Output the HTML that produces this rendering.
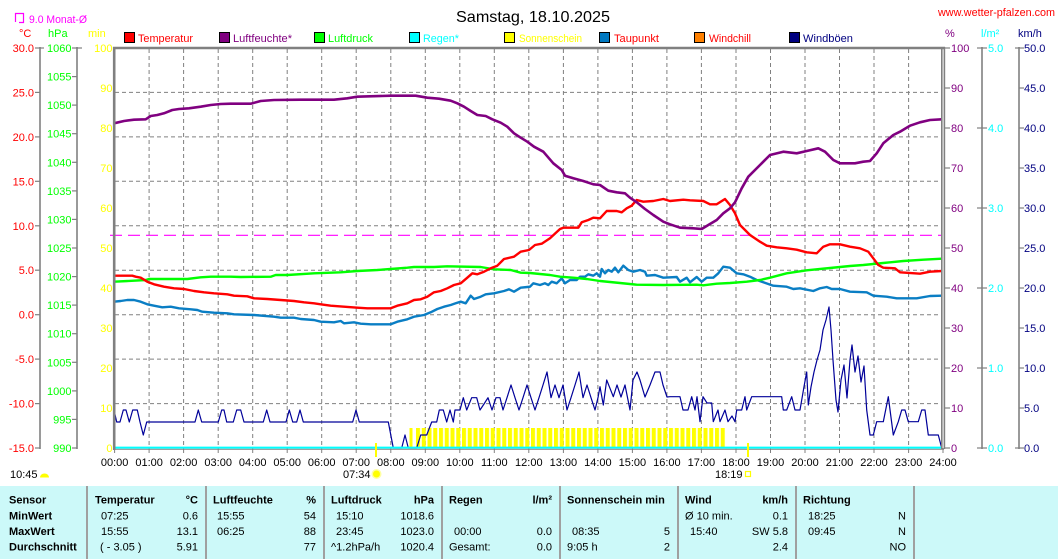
<!DOCTYPE html>
<html>
<head>
<meta charset="utf-8">
<style>
html,body{margin:0;padding:0;background:#fff;}
svg{display:block;}
text{font-family:"Liberation Sans",Arial,sans-serif;font-size:11px;}
.b{font-weight:bold;}
</style>
</head>
<body>
<svg width="1058" height="559" viewBox="0 0 1058 559" xmlns="http://www.w3.org/2000/svg">
<defs>
<pattern id="sun" patternUnits="userSpaceOnUse" x="416" y="0" width="5.75" height="600">
<rect x="0" y="0" width="4" height="600" fill="#ffff00"/>
</pattern>
</defs>

<!-- Title -->
<text x="456" y="22" style="font-size:16px" fill="#000" textLength="154" lengthAdjust="spacingAndGlyphs">Samstag, 18.10.2025</text>
<text x="938" y="16" fill="#ff0000" textLength="117" lengthAdjust="spacingAndGlyphs">www.wetter-pfalzen.com</text>

<!-- Monat icon + text -->
<path d="M15.5,22 V13.5 H23.5 V22.5 H19" fill="none" stroke="#ff00ff" stroke-width="1.2"/>
<text x="29" y="23" fill="#ff00ff" textLength="58" lengthAdjust="spacingAndGlyphs">9.0 Monat-Ø</text>

<!-- units -->
<text x="19" y="37" fill="#ff0000">°C</text>
<text x="48" y="37" fill="#00ff00">hPa</text>
<text x="88" y="37" fill="#ffff00">min</text>
<text x="945" y="37" fill="#800080">%</text>
<text x="981" y="37" fill="#00ffff">l/m²</text>
<text x="1018" y="37" fill="#000080">km/h</text>

<!-- legend -->
<g stroke="#000" stroke-width="1">
<rect x="124.5" y="32.5" width="10" height="10" fill="#ff0000"/>
<rect x="219.5" y="32.5" width="10" height="10" fill="#800080"/>
<rect x="314.5" y="32.5" width="10" height="10" fill="#00ff00"/>
<rect x="409.5" y="32.5" width="10" height="10" fill="#00ffff"/>
<rect x="504.5" y="32.5" width="10" height="10" fill="#ffff00"/>
<rect x="599.5" y="32.5" width="10" height="10" fill="#0078c0"/>
<rect x="694.5" y="32.5" width="10" height="10" fill="#ff8000"/>
<rect x="789.5" y="32.5" width="10" height="10" fill="#000080"/>
</g>
<text x="138" y="42" fill="#ff0000" textLength="55" lengthAdjust="spacingAndGlyphs">Temperatur</text>
<text x="233" y="42" fill="#800080" textLength="59" lengthAdjust="spacingAndGlyphs">Luftfeuchte*</text>
<text x="328" y="42" fill="#00ff00" textLength="45" lengthAdjust="spacingAndGlyphs">Luftdruck</text>
<text x="423" y="42" fill="#00ffff" textLength="36" lengthAdjust="spacingAndGlyphs">Regen*</text>
<text x="519" y="42" fill="#ffff00" textLength="63" lengthAdjust="spacingAndGlyphs">Sonnenschein</text>
<text x="614" y="42" fill="#ff0000" textLength="45" lengthAdjust="spacingAndGlyphs">Taupunkt</text>
<text x="709" y="42" fill="#ff0000" textLength="42" lengthAdjust="spacingAndGlyphs">Windchill</text>
<text x="803" y="42" fill="#000080" textLength="50" lengthAdjust="spacingAndGlyphs">Windböen</text>

<!-- left axis lines -->
<g stroke="#808080" stroke-width="1.6">
<line x1="40" y1="47" x2="40" y2="449"/>
<line x1="77" y1="47" x2="77" y2="449"/>
<line x1="982" y1="47" x2="982" y2="449"/>
<line x1="1019" y1="47" x2="1019" y2="449"/>
</g>
<g stroke="#808080" stroke-width="1.2">
<!-- temp ticks -->
<line x1="35" y1="48" x2="44" y2="48"/>
<line x1="35" y1="92.4" x2="40" y2="92.4"/>
<line x1="35" y1="136.9" x2="40" y2="136.9"/>
<line x1="35" y1="181.3" x2="40" y2="181.3"/>
<line x1="35" y1="225.8" x2="40" y2="225.8"/>
<line x1="35" y1="270.2" x2="40" y2="270.2"/>
<line x1="35" y1="314.7" x2="40" y2="314.7"/>
<line x1="35" y1="359.1" x2="40" y2="359.1"/>
<line x1="35" y1="403.6" x2="40" y2="403.6"/>
<line x1="35" y1="448" x2="40" y2="448"/>
<!-- hPa ticks -->
<line x1="72" y1="48" x2="82" y2="48"/>
<line x1="72" y1="76.6" x2="77" y2="76.6"/>
<line x1="72" y1="105.1" x2="77" y2="105.1"/>
<line x1="72" y1="133.7" x2="77" y2="133.7"/>
<line x1="72" y1="162.3" x2="77" y2="162.3"/>
<line x1="72" y1="190.9" x2="77" y2="190.9"/>
<line x1="72" y1="219.4" x2="77" y2="219.4"/>
<line x1="72" y1="248" x2="77" y2="248"/>
<line x1="72" y1="276.6" x2="77" y2="276.6"/>
<line x1="72" y1="305.1" x2="77" y2="305.1"/>
<line x1="72" y1="333.7" x2="77" y2="333.7"/>
<line x1="72" y1="362.3" x2="77" y2="362.3"/>
<line x1="72" y1="390.9" x2="77" y2="390.9"/>
<line x1="72" y1="419.4" x2="77" y2="419.4"/>
<line x1="72" y1="448" x2="77" y2="448"/>
<!-- % ticks -->
<line x1="945" y1="48" x2="950" y2="48"/>
<line x1="945" y1="88" x2="950" y2="88"/>
<line x1="945" y1="128" x2="950" y2="128"/>
<line x1="945" y1="168" x2="950" y2="168"/>
<line x1="945" y1="208" x2="950" y2="208"/>
<line x1="945" y1="248" x2="950" y2="248"/>
<line x1="945" y1="288" x2="950" y2="288"/>
<line x1="945" y1="328" x2="950" y2="328"/>
<line x1="945" y1="368" x2="950" y2="368"/>
<line x1="945" y1="408" x2="950" y2="408"/>
<line x1="945" y1="448" x2="950" y2="448"/>
<!-- l/m2 ticks -->
<line x1="977" y1="48" x2="987" y2="48"/>
<line x1="977" y1="128" x2="987" y2="128"/>
<line x1="977" y1="208" x2="987" y2="208"/>
<line x1="977" y1="288" x2="987" y2="288"/>
<line x1="977" y1="368" x2="987" y2="368"/>
<line x1="977" y1="448" x2="987" y2="448"/>
<!-- km/h ticks -->
<line x1="1015" y1="48" x2="1024" y2="48"/>
<line x1="1019" y1="88" x2="1024" y2="88"/>
<line x1="1019" y1="128" x2="1024" y2="128"/>
<line x1="1019" y1="168" x2="1024" y2="168"/>
<line x1="1019" y1="208" x2="1024" y2="208"/>
<line x1="1019" y1="248" x2="1024" y2="248"/>
<line x1="1019" y1="288" x2="1024" y2="288"/>
<line x1="1019" y1="328" x2="1024" y2="328"/>
<line x1="1019" y1="368" x2="1024" y2="368"/>
<line x1="1019" y1="408" x2="1024" y2="408"/>
<line x1="1015" y1="448" x2="1024" y2="448"/>
</g>

<!-- temp labels -->
<g fill="#ff0000" text-anchor="end">
<text x="34" y="52">30.0</text>
<text x="34" y="96.4">25.0</text>
<text x="34" y="140.9">20.0</text>
<text x="34" y="185.3">15.0</text>
<text x="34" y="229.8">10.0</text>
<text x="34" y="274.2">5.0</text>
<text x="34" y="318.7">0.0</text>
<text x="34" y="363.1">-5.0</text>
<text x="34" y="407.6">-10.0</text>
<text x="34" y="452">-15.0</text>
</g>
<g fill="#00ff00" text-anchor="end">
<text x="71.5" y="52">1060</text>
<text x="71.5" y="80.6">1055</text>
<text x="71.5" y="109.1">1050</text>
<text x="71.5" y="137.7">1045</text>
<text x="71.5" y="166.3">1040</text>
<text x="71.5" y="194.9">1035</text>
<text x="71.5" y="223.4">1030</text>
<text x="71.5" y="252">1025</text>
<text x="71.5" y="280.6">1020</text>
<text x="71.5" y="309.1">1015</text>
<text x="71.5" y="337.7">1010</text>
<text x="71.5" y="366.3">1005</text>
<text x="71.5" y="394.9">1000</text>
<text x="71.5" y="423.4">995</text>
<text x="71.5" y="452">990</text>
</g>
<g fill="#ffff00" text-anchor="end">
<text x="112.5" y="52">100</text>
<text x="112.5" y="92">90</text>
<text x="112.5" y="132">80</text>
<text x="112.5" y="172">70</text>
<text x="112.5" y="212">60</text>
<text x="112.5" y="252">50</text>
<text x="112.5" y="292">40</text>
<text x="112.5" y="332">30</text>
<text x="112.5" y="372">20</text>
<text x="112.5" y="412">10</text>
<text x="112.5" y="452">0</text>
</g>
<g fill="#800080">
<text x="951" y="52">100</text>
<text x="951" y="92">90</text>
<text x="951" y="132">80</text>
<text x="951" y="172">70</text>
<text x="951" y="212">60</text>
<text x="951" y="252">50</text>
<text x="951" y="292">40</text>
<text x="951" y="332">30</text>
<text x="951" y="372">20</text>
<text x="951" y="412">10</text>
<text x="951" y="452">0</text>
</g>
<g fill="#00ffff">
<text x="988" y="52">5.0</text>
<text x="988" y="132">4.0</text>
<text x="988" y="212">3.0</text>
<text x="988" y="292">2.0</text>
<text x="988" y="372">1.0</text>
<text x="988" y="452">0.0</text>
</g>
<g fill="#000080">
<text x="1024" y="52">50.0</text>
<text x="1024" y="92">45.0</text>
<text x="1024" y="132">40.0</text>
<text x="1024" y="172">35.0</text>
<text x="1024" y="212">30.0</text>
<text x="1024" y="252">25.0</text>
<text x="1024" y="292">20.0</text>
<text x="1024" y="332">15.0</text>
<text x="1024" y="372">10.0</text>
<text x="1024" y="412">5.0</text>
<text x="1024" y="452">0.0</text>
</g>

<!-- grid -->
<g stroke="#808080" stroke-width="1" stroke-dasharray="4,3">
<line x1="115" y1="92.4" x2="941" y2="92.4"/>
<line x1="115" y1="136.9" x2="941" y2="136.9"/>
<line x1="115" y1="181.3" x2="941" y2="181.3"/>
<line x1="115" y1="225.8" x2="941" y2="225.8"/>
<line x1="115" y1="270.2" x2="941" y2="270.2"/>
<line x1="115" y1="314.7" x2="941" y2="314.7"/>
<line x1="115" y1="359.1" x2="941" y2="359.1"/>
<line x1="115" y1="403.6" x2="941" y2="403.6"/>
<line x1="149.1" y1="49" x2="149.1" y2="448"/>
<line x1="183.6" y1="49" x2="183.6" y2="448"/>
<line x1="218.2" y1="49" x2="218.2" y2="448"/>
<line x1="252.7" y1="49" x2="252.7" y2="448"/>
<line x1="287.2" y1="49" x2="287.2" y2="448"/>
<line x1="321.7" y1="49" x2="321.7" y2="448"/>
<line x1="356.2" y1="49" x2="356.2" y2="448"/>
<line x1="390.8" y1="49" x2="390.8" y2="448"/>
<line x1="425.3" y1="49" x2="425.3" y2="448"/>
<line x1="459.8" y1="49" x2="459.8" y2="448"/>
<line x1="494.3" y1="49" x2="494.3" y2="448"/>
<line x1="528.8" y1="49" x2="528.8" y2="448"/>
<line x1="563.4" y1="49" x2="563.4" y2="448"/>
<line x1="597.9" y1="49" x2="597.9" y2="448"/>
<line x1="632.4" y1="49" x2="632.4" y2="448"/>
<line x1="666.9" y1="49" x2="666.9" y2="448"/>
<line x1="701.4" y1="49" x2="701.4" y2="448"/>
<line x1="736" y1="49" x2="736" y2="448"/>
<line x1="770.5" y1="49" x2="770.5" y2="448"/>
<line x1="805" y1="49" x2="805" y2="448"/>
<line x1="839.5" y1="49" x2="839.5" y2="448"/>
<line x1="874" y1="49" x2="874" y2="448"/>
<line x1="908.6" y1="49" x2="908.6" y2="448"/>
</g>

<!-- monthly average dashed line -->
<line x1="110" y1="235.3" x2="941" y2="235.3" stroke="#ff00ff" stroke-width="1.2" stroke-dasharray="12,6"/>

<!-- hour ticks -->
<g stroke="#808080" stroke-width="1">
<line x1="114.6" y1="448" x2="114.6" y2="453"/>
<line x1="149.1" y1="448" x2="149.1" y2="453"/>
<line x1="183.6" y1="448" x2="183.6" y2="453"/>
<line x1="218.2" y1="448" x2="218.2" y2="453"/>
<line x1="252.7" y1="448" x2="252.7" y2="453"/>
<line x1="287.2" y1="448" x2="287.2" y2="453"/>
<line x1="321.7" y1="448" x2="321.7" y2="453"/>
<line x1="356.2" y1="448" x2="356.2" y2="453"/>
<line x1="390.8" y1="448" x2="390.8" y2="453"/>
<line x1="425.3" y1="448" x2="425.3" y2="453"/>
<line x1="459.8" y1="448" x2="459.8" y2="453"/>
<line x1="494.3" y1="448" x2="494.3" y2="453"/>
<line x1="528.8" y1="448" x2="528.8" y2="453"/>
<line x1="563.4" y1="448" x2="563.4" y2="453"/>
<line x1="597.9" y1="448" x2="597.9" y2="453"/>
<line x1="632.4" y1="448" x2="632.4" y2="453"/>
<line x1="666.9" y1="448" x2="666.9" y2="453"/>
<line x1="701.4" y1="448" x2="701.4" y2="453"/>
<line x1="736" y1="448" x2="736" y2="453"/>
<line x1="770.5" y1="448" x2="770.5" y2="453"/>
<line x1="805" y1="448" x2="805" y2="453"/>
<line x1="839.5" y1="448" x2="839.5" y2="453"/>
<line x1="874" y1="448" x2="874" y2="453"/>
<line x1="908.6" y1="448" x2="908.6" y2="453"/>
<line x1="943" y1="448" x2="943" y2="453"/>
</g>

<!-- sunshine bars -->
<rect x="409.5" y="428" width="3" height="20" fill="#ffff00"/>
<rect x="416" y="428" width="310" height="20" fill="url(#sun)"/>

<!-- series -->
<polyline fill="none" stroke="#000099" stroke-width="1.2" stroke-linejoin="round" points="114,410 116.7,422 120,422 123.3,410 126,410 129.3,422 132.7,410 137.3,410 140,422 143.3,435 146.7,422 195,422 198.3,410 201.7,422 218.3,422 221.7,410 224,410 226.7,422 233.3,422 236.7,410 240.7,410 244,422 263.3,422 266.7,410 270,422 286,422 289.3,410 292.7,422 296.7,422 300,410 303.3,422 352.7,422 356,410 359.3,422 388.3,422 393.3,448 401.7,448 405,435 408.3,448 416.7,448 420.7,435 426.7,435 431.7,422 436.7,422 439.3,410 443.3,410 446.7,422 450,410 453.3,422 455,410 460,410 463.3,397.7 466.7,410 471.7,397.7 476.7,397.7 480,410 484,404 488,397.7 492,410 496,397.7 500,397.7 503,410 507,397.7 511,385 515,397.7 519,410 523,397.7 527,385 531,397.7 535,410 539,397.7 543,385 547,372 551,397.7 555,385 559,397.7 563,385 567,410 571,397.7 575,385 579,372 583,397.7 587,385 591,397.7 595,410 598,397.7 600,386.7 603.3,405 606.7,380 613.3,396.7 617,385 621,397 625,385 630,410 633,380 637,372 640,380 645,397 650,385 655,372 660,372 663,385 667,397 670,396.7 680,396.7 683,410 688,410 691.7,396.7 695,410 697,396.7 700,421.7 703,396.7 707,403 711.7,403 713.3,421.7 718,410 720,421.7 725,410 728,421.7 732,416 735,421.7 736.7,410 741.7,410 745,396.7 746.7,410 751.7,396.7 761.7,396.7 781.7,396.7 783.3,410 786.7,410 791.7,396.7 795,410 800,410 804,386.7 806.7,372 808.3,405 811,387 814,372 817,360 820,350 823,330 826,320 829,307 831,330 833,360 836,400 838,412 841,380 844,365 847,398 850,360 852,345 855,372 858,356 861,382 864,366 866.7,410 870,435 873.3,435 876.7,421.7 883.3,421.7 888.3,396.7 893.3,435 898.3,421.7 901.7,410 905,410 908.3,421.7 918.3,421.7 921.7,410 925,410 928.3,435 938.3,435 941.7,448"/>

<polyline fill="none" stroke="#0a7ec4" stroke-width="2.4" stroke-linejoin="round" points="114,301.7 120.7,301 127.3,300 134,300 140.7,301.7 147.3,304.3 154,305.7 162.3,307.3 170.7,306.7 179,308.3 190.7,309.3 197.3,310 202.3,311.7 214,312.7 227.3,313.3 234,314.3 254,315 274,316.7 280.7,317.7 294,317.7 300.7,319 314,320 320.7,321.7 334,322.3 340.7,321 344,323.3 354,322.3 360.7,323.7 370.7,324.3 390.7,324.3 397.3,321.7 407.3,319.3 414,316.7 424,315 430.7,312.3 437.3,309 444,306.7 450.7,305 455.7,303.3 460.7,301.7 465.7,303.3 470.7,295.7 474,299 480.7,296.7 485.7,294.3 494,293.3 504,291 509,289.3 514,291.7 520.7,287.7 527.3,287 530,286.7 533.3,283.3 540,285 545,283.3 548.3,285 551.7,281.7 556.7,283.3 561.7,278.3 565,283.3 570,280 576.7,280 580,276.7 585,276.7 588.3,274.3 593.3,275.7 596.7,273.3 600,276.7 601.7,269 605,273.3 608.3,270 611.7,271.7 615,267.7 618.3,272.3 623.3,265.7 628.3,270 633.3,271.7 640,270 645,271.7 646.7,275.7 655,275 663.3,277.7 676.7,277 680,281.7 686.7,277.7 690,282.3 696.7,277 701.7,281.7 706.7,277.7 713.3,277.7 718.3,273.3 723.3,266.7 730,267.7 736.7,273.3 743.3,274.3 750,276.7 756.7,280 763.3,282.3 773.3,285.7 786.7,286.7 793.3,289 800,288.3 813.3,291 820,288.3 826.7,287 831.7,289 840,289 850,291.7 866.7,292.3 873.3,295.7 886.7,296.7 896.7,298.3 916.7,298.3 930,296 941.7,295.7"/>

<polyline fill="none" stroke="#00ff00" stroke-width="2.4" stroke-linejoin="round" points="114,281.7 134,280.7 145.7,280 149,279 187.3,279 200.7,277.3 210.7,276.7 230.7,276.7 240.7,277 270.7,276.7 275.7,275 287.3,275 314,273.3 340.7,272.3 357.3,271 377.3,270 390.7,269 407.3,267.7 414,267 434,267 447.3,266.3 480.7,267 494,269.3 510.7,270 520.7,272.7 530,273 550,275 560,276.7 573.3,277.7 586.7,279 600,281 620,283 636.7,284.7 663.3,285 696.7,284.7 703.3,285.3 716.7,283.7 730,283 746.7,281.7 760,280 770,277.7 786.7,273.3 806.7,270.3 830,268 850,266 863.3,265 883.3,263 903.3,261 923.3,259.7 941.7,258.7"/>

<polyline fill="none" stroke="#ff0000" stroke-width="2.4" stroke-linejoin="round" points="114,275.7 132.3,275.7 135.7,276.7 140.7,277.7 147.3,281.7 154,284.3 164,286.7 174,288.3 184,289 194,291 204,292.3 214,293.3 227.3,294.3 234,295.7 247.3,296.3 254,298.3 267.3,299 280.7,300 294,301 304,302.3 314,303.3 320.7,304.3 330.7,305.7 344,306.7 357.3,307.7 367.3,308.3 390.7,308.3 397.3,305.7 407.3,303.3 414,300 420.7,299.3 427.3,296.7 434,292.3 440.7,291 447.3,288.3 454,285 460.7,283.3 467.3,277.7 472.3,273.3 477.3,274.3 484,271.7 490.7,268.3 497.3,265.7 504,259 514,256.7 520.7,251.7 529,250 535,245 541.7,243.7 550,238.3 560,229 563.3,227.7 578.3,227.7 581.7,222.3 588.3,220 593.3,217.7 600,218.3 606.7,211 616.7,211 621.7,212.3 626.7,208.3 631.7,205.7 636.7,200 643.3,201.7 653.3,201 663.3,199 670,201 683.3,199.7 690,200.3 703.3,201 710,204.3 716.7,204.3 725,199 730,205 735,213.3 740,225 750,235 760,241.7 766.7,245.7 776.7,247.3 786.7,248.3 796.7,249.7 806.7,252.3 816.7,253.3 823.3,246.7 830,244.3 840,244.3 850,246.7 860,248.3 868.3,251.7 873.3,258.3 878.3,265 883.3,267.7 895,268.3 900,272.3 920,273.7 930,271.7 941.7,271"/>

<polyline fill="none" stroke="#800080" stroke-width="2.6" stroke-linejoin="round" points="114,123.3 124,121 134,119.7 145.7,119.3 150.7,116 157.3,115 164,113.3 172.3,110 179,109 189,108.3 200.7,106.7 210.7,105 220.7,104 230.7,103.7 250.7,103.7 260.7,101 274,100 300.7,99.7 334,99.7 347.3,98.3 357.3,96.7 390.7,95.7 415.7,95.7 427.3,97.7 439,98.7 450.7,100.7 457.3,103.3 464,106.7 470.7,111 477.3,115 485.7,116 492.3,119.3 500.7,122.7 507.3,126.7 514,133.3 520.7,137.7 527.3,141.7 534,146.7 543.3,151.7 553.3,163.3 561.7,170 565,175.7 573.3,178.3 583.3,181 593.3,184.3 600,185 608.3,190.7 616.7,192.3 625,193.3 630,197.7 636.7,202.3 645,209 653.3,215 663.3,221.7 670,224.3 680,227.7 693.3,228.3 701.7,229 708.3,225 716.7,220 723.3,213.3 730,208.3 735,202.3 741.7,188.3 748.3,176.7 760,165 770,155 783.3,151.7 796.7,153.3 806.7,151 818.3,148.3 825,151.7 833.3,160 840,163.3 855,163.3 863.3,161.7 870,161 876.7,153.3 883.3,143.3 893.3,135 900,131.7 910,125.7 920,122.3 930,120 941.7,119.3"/>

<!-- rain line -->
<line x1="114" y1="449.3" x2="944" y2="449.3" stroke="#808080" stroke-width="1"/>
<line x1="114" y1="447.6" x2="942" y2="447.6" stroke="#00ffff" stroke-width="2"/>

<!-- plot border -->
<line x1="113" y1="48" x2="945" y2="48" stroke="#808080" stroke-width="2.6"/>
<line x1="114.2" y1="47" x2="114.2" y2="450" stroke="#808080" stroke-width="2.6"/>
<line x1="941.8" y1="47" x2="941.8" y2="449" stroke="#808080" stroke-width="1.6"/>
<line x1="944.4" y1="47" x2="944.4" y2="449" stroke="#808080" stroke-width="1.6"/>

<!-- sunrise/sunset markers -->
<rect x="375" y="443" width="2" height="14" fill="#ffff00"/>
<rect x="747" y="443" width="2" height="14" fill="#ffff00"/>

<!-- hour labels -->
<g fill="#000" text-anchor="middle">
<text x="114.6" y="466">00:00</text>
<text x="149.1" y="466">01:00</text>
<text x="183.6" y="466">02:00</text>
<text x="218.2" y="466">03:00</text>
<text x="252.7" y="466">04:00</text>
<text x="287.2" y="466">05:00</text>
<text x="321.7" y="466">06:00</text>
<text x="356.2" y="466">07:00</text>
<text x="390.8" y="466">08:00</text>
<text x="425.3" y="466">09:00</text>
<text x="459.8" y="466">10:00</text>
<text x="494.3" y="466">11:00</text>
<text x="528.8" y="466">12:00</text>
<text x="563.4" y="466">13:00</text>
<text x="597.9" y="466">14:00</text>
<text x="632.4" y="466">15:00</text>
<text x="666.9" y="466">16:00</text>
<text x="701.4" y="466">17:00</text>
<text x="736" y="466">18:00</text>
<text x="770.5" y="466">19:00</text>
<text x="805" y="466">20:00</text>
<text x="839.5" y="466">21:00</text>
<text x="874" y="466">22:00</text>
<text x="908.6" y="466">23:00</text>
<text x="943" y="466">24:00</text>
</g>

<!-- sun info -->
<text x="10" y="478" fill="#000">10:45</text>
<path d="M40,477.5 A4.5,4 0 0 1 49,477.5 Z" fill="#ffff00"/>
<text x="343" y="478" fill="#000">07:34</text>
<circle cx="376.5" cy="474" r="5" fill="#ffffa0"/>
<circle cx="376.5" cy="474" r="3.5" fill="#ffff00"/>
<text x="715" y="478" fill="#000">18:19</text>
<rect x="745.5" y="471.5" width="5" height="5" fill="none" stroke="#ffff00" stroke-width="1.2"/>

<!-- table -->
<rect x="0" y="486" width="1058" height="73" fill="#ccf9f9"/>
<g stroke="#a0a0a0" stroke-width="2">
<line x1="87" y1="486" x2="87" y2="559"/>
<line x1="206" y1="486" x2="206" y2="559"/>
<line x1="324" y1="486" x2="324" y2="559"/>
<line x1="442" y1="486" x2="442" y2="559"/>
<line x1="560" y1="486" x2="560" y2="559"/>
<line x1="678" y1="486" x2="678" y2="559"/>
<line x1="796" y1="486" x2="796" y2="559"/>
<line x1="914" y1="486" x2="914" y2="559"/>
</g>
<g fill="#000">
<text class="b" x="9" y="503.5">Sensor</text>
<text class="b" x="9" y="519.5">MinWert</text>
<text class="b" x="9" y="535">MaxWert</text>
<text class="b" x="9" y="550.5">Durchschnitt</text>

<text class="b" x="95" y="503.5">Temperatur</text>
<text class="b" x="198" y="503.5" text-anchor="end">°C</text>
<text x="101" y="519.5">07:25</text>
<text x="198" y="519.5" text-anchor="end">0.6</text>
<text x="101" y="535">15:55</text>
<text x="198" y="535" text-anchor="end">13.1</text>
<text x="100" y="550.5">( - 3.05 )</text>
<text x="198" y="550.5" text-anchor="end">5.91</text>

<text class="b" x="213" y="503.5">Luftfeuchte</text>
<text class="b" x="316" y="503.5" text-anchor="end">%</text>
<text x="217" y="519.5">15:55</text>
<text x="316" y="519.5" text-anchor="end">54</text>
<text x="217" y="535">06:25</text>
<text x="316" y="535" text-anchor="end">88</text>
<text x="316" y="550.5" text-anchor="end">77</text>

<text class="b" x="331" y="503.5">Luftdruck</text>
<text class="b" x="434" y="503.5" text-anchor="end">hPa</text>
<text x="336" y="519.5">15:10</text>
<text x="434" y="519.5" text-anchor="end">1018.6</text>
<text x="336" y="535">23:45</text>
<text x="434" y="535" text-anchor="end">1023.0</text>
<text x="331" y="550.5">^1.2hPa/h</text>
<text x="434" y="550.5" text-anchor="end">1020.4</text>

<text class="b" x="449" y="503.5">Regen</text>
<text class="b" x="552" y="503.5" text-anchor="end">l/m²</text>
<text x="454" y="535">00:00</text>
<text x="552" y="535" text-anchor="end">0.0</text>
<text x="449" y="550.5">Gesamt:</text>
<text x="552" y="550.5" text-anchor="end">0.0</text>

<text class="b" x="567" y="503.5">Sonnenschein min</text>
<text x="572" y="535">08:35</text>
<text x="670" y="535" text-anchor="end">5</text>
<text x="567" y="550.5">9:05 h</text>
<text x="670" y="550.5" text-anchor="end">2</text>

<text class="b" x="685" y="503.5">Wind</text>
<text class="b" x="788" y="503.5" text-anchor="end">km/h</text>
<text x="685" y="519.5">Ø 10 min.</text>
<text x="788" y="519.5" text-anchor="end">0.1</text>
<text x="690" y="535">15:40</text>
<text x="788" y="535" text-anchor="end">SW 5.8</text>
<text x="788" y="550.5" text-anchor="end">2.4</text>

<text class="b" x="803" y="503.5">Richtung</text>
<text x="808" y="519.5">18:25</text>
<text x="906" y="519.5" text-anchor="end">N</text>
<text x="808" y="535">09:45</text>
<text x="906" y="535" text-anchor="end">N</text>
<text x="906" y="550.5" text-anchor="end">NO</text>
</g>
</svg>
</body>
</html>
